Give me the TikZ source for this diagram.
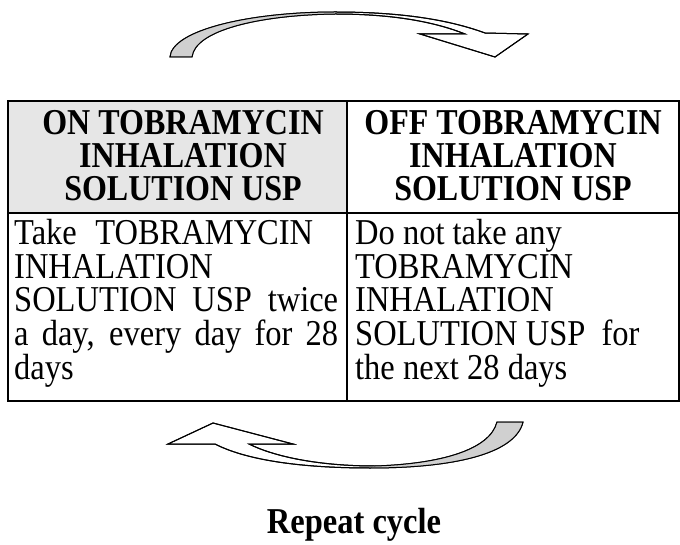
\documentclass[tikz,border=0pt]{standalone}
\usepackage{fontspec}
\setmainfont{Liberation Serif}
\newcommand{\fsz}{\fontsize{32.5}{34}\selectfont}
\newcommand{\vst}[1]{\scalebox{1}[1.12]{#1}}
\newcommand{\hst}[1]{\scalebox{0.985}[1.12]{#1}}
\definecolor{hdrgray}{HTML}{E6E6E6}
\definecolor{arrgray}{HTML}{D0D0D0}
\tikzset{
  line/.style={anchor=base west, inner sep=0pt, font=\fsz},
  hline/.style={anchor=base, inner sep=0pt, font=\fsz\bfseries},
  grid/.style={line width=1.5pt},
  arrowshape/.style={draw=black, line width=1pt, line join=miter, fill=white},
}
\begin{document}
\begin{tikzpicture}[x=1pt,y=-1pt]
\path[use as bounding box] (0,0) rectangle (680,545);

% ---- top curved arrow ----
\path[arrowshape] (170,57) .. controls (172,30) and (250,12) .. (335,12)
  .. controls (410,12) and (455,22) .. (485,33) -- (528,34) -- (495,57) -- (420,34) -- (465,34)
  .. controls (440,24) and (400,14) .. (335,14)
  .. controls (260,15) and (195,30) .. (192,57) -- cycle;
\fill[arrgray] (170,57) .. controls (172,30) and (250,12) .. (335,12) -- (335,14)
  .. controls (260,15) and (195,30) .. (192,57) -- cycle;
\draw[line width=1pt, line join=miter] (170,57) .. controls (172,30) and (250,12) .. (335,12)
  .. controls (410,12) and (455,22) .. (485,33) -- (528,34) -- (495,57) -- (420,34) -- (465,34)
  .. controls (440,24) and (400,14) .. (335,14)
  .. controls (260,15) and (195,30) .. (192,57) -- cycle;

% ---- table ----
\fill[hdrgray] (8,101) rectangle (347,213);
\draw[grid] (8,101) rectangle (679,401);
\draw[grid] (8,213) -- (679,213);
\draw[grid] (347,101) -- (347,401);

% header left
\node[hline] (hl1) at (183,135) {\hst{ON TOBRAMYCIN}};
\node[hline] (hl2) at (183,168) {\hst{INHALATION}};
\node[hline] (hl3) at (183,201) {\hst{SOLUTION USP}};
% header right
\node[hline] (hr1) at (513,135) {\hst{OFF TOBRAMYCIN}};
\node[hline] (hr2) at (513,168) {\hst{INHALATION}};
\node[hline] (hr3) at (513,201) {\hst{SOLUTION USP}};

% body left
\node[line] (bl1) at (14,245) {\vst{\makebox[299pt][s]{Take TOBRAMYCIN}}};
\node[line] (bl2) at (14,278.5) {\vst{INHALATION}};
\node[line] (bl3) at (14,312) {\vst{\makebox[324pt][s]{SOLUTION USP twice}}};
\node[line] (bl4) at (14,345.5) {\vst{\makebox[324pt][s]{a day, every day for 28}}};
\node[line] (bl5) at (14,379) {\vst{days}};
% body right
\node[line] (br1) at (355,245) {\vst{Do not take any}};
\node[line] (br2) at (355,278.5) {\vst{TOBRAMYCIN}};
\node[line] (br3) at (355,312) {\vst{INHALATION}};
\node[line] (br4) at (355,345.5) {\vst{SOLUTION USP\ \ for}};
\node[line] (br5) at (355,379) {\vst{the next 28 days}};

% ---- bottom curved arrow ----
\path[arrowshape] (215,444) .. controls (250,462) and (310,468) .. (370,468)
  .. controls (450,468) and (515,455) .. (523,422) -- (497,422)
  .. controls (490,450) and (440,464) .. (375,466)
  .. controls (320,466) and (275,457) .. (249,444) -- (293,444) -- (213,423) -- (168,444) -- cycle;
\fill[arrgray] (370,468) .. controls (450,468) and (515,455) .. (523,422) -- (497,422)
  .. controls (490,450) and (440,464) .. (375,466) -- cycle;
\draw[line width=1pt, line join=miter] (215,444) .. controls (250,462) and (310,468) .. (370,468)
  .. controls (450,468) and (515,455) .. (523,422) -- (497,422)
  .. controls (490,450) and (440,464) .. (375,466)
  .. controls (320,466) and (275,457) .. (249,444) -- (293,444) -- (213,423) -- (168,444) -- cycle;

% ---- caption ----
\node[hline] (rep) at (354,533) {\vst{Repeat cycle}};
\end{tikzpicture}
\end{document}
